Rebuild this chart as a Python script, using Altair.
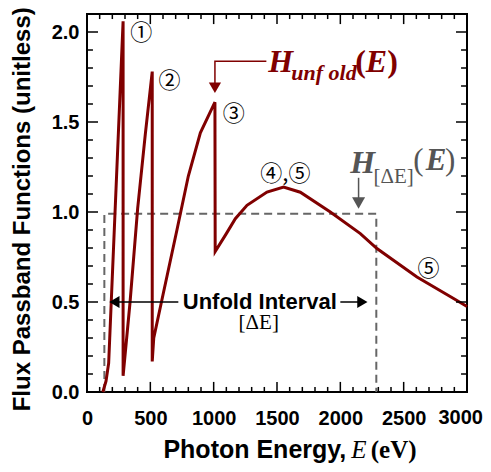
import altair as alt
import pandas as pd

# ---- data ----
energy = [125, 150, 171, 285, 285, 340, 400, 460, 515, 515, 527, 600, 710, 800,
          895, 1010, 1012, 1100, 1171, 1263, 1421, 1552, 1684, 1921, 2158, 2289,
          2605, 2894, 3000]
h_unfold = [0.0, 0.06, 0.16, 2.06, 0.09, 0.50, 1.02, 1.43, 1.78, 0.17, 0.30, 0.54,
            0.90, 1.20, 1.44, 1.61, 0.78, 0.88, 0.963, 1.037, 1.111, 1.139, 1.11,
            1.00, 0.88, 0.797, 0.639, 0.519, 0.475]

box_e = [137, 137, 2284, 2284]
box_h = [0.0, 0.99, 0.99, 0.0]

x_major = [0, 500, 1000, 1500, 2000, 2500, 3000]
x_minor = list(range(0, 3001, 100))
y_major = [0.0, 0.5, 1.0, 1.5, 2.0]
y_minor = [round(i * 0.1, 1) for i in range(0, 21)]

circle_labels = ["\u2460", "\u2461", "\u2462", "\u2463,\u2464", "\u2464"]
circle_e = [429, 652, 1158, 1566, 2697]
circle_v = [1.997, 1.728, 1.547, 1.213, 0.686]

RED = "#800000"
GRAY = "#555555"
DGRAY = "#666666"

XMAX, YMAX = 3000, 2.1

xs = alt.Scale(domain=[0, XMAX], nice=False, zero=False)
ys = alt.Scale(domain=[0, YMAX], nice=False, zero=False)

X_AXIS = alt.Axis(values=x_major, format="d", ticks=False, domain=False, grid=False,
                  labelFont="Liberation Sans", labelFontWeight="bold",
                  labelFontSize=20, labelColor="black", labelPadding=16,
                  labelOverlap=False, labelFlush=False, title=None,
                  labelExpr="datum.value == 3000 ? '' : datum.label")
Y_AXIS = alt.Axis(values=y_major, format=".1f", ticks=False, domain=False, grid=False,
                  labelFont="Liberation Sans", labelFontWeight="bold",
                  labelFontSize=20, labelColor="black", labelPadding=8,
                  labelOverlap=False, labelFlush=False, title=None)


def enc(ch):
    return ch.encode(x=alt.X("E:Q", scale=xs, axis=X_AXIS),
                     y=alt.Y("v:Q", scale=ys, axis=Y_AXIS))


curve_df = pd.DataFrame({"E": energy, "v": h_unfold, "i": range(len(energy))})
curve = enc(alt.Chart(curve_df).mark_line(color=RED, strokeWidth=3)).encode(order="i:Q")

box_df = pd.DataFrame({"E": box_e, "v": box_h, "i": range(4)})
box = enc(alt.Chart(box_df).mark_line(color=DGRAY, strokeWidth=2, strokeDash=[8, 5])).encode(order="i:Q")

# ---- inward ticks on all four sides ----
rows = []
for e in x_minor:
    ln = 0.056 if e in x_major else 0.028
    rows.append({"E": e, "v": 0.0, "E2": e, "v2": ln})
    rows.append({"E": e, "v": YMAX, "E2": e, "v2": YMAX - ln})
for v in y_minor:
    ln = 87 if v in y_major else 47
    rows.append({"E": 0, "v": v, "E2": ln, "v2": v})
    rows.append({"E": XMAX, "v": v, "E2": XMAX - ln, "v2": v})
ticks = enc(alt.Chart(pd.DataFrame(rows)).mark_rule(color="black", strokeWidth=1.5)).encode(
    x2="E2:Q", y2="v2:Q")

# ---- H_unfold arrow ----
hu_line = enc(alt.Chart(pd.DataFrame({"E": [1416, 1010, 1010], "v": [1.837, 1.837, 1.71], "i": [0, 1, 2]}))
              .mark_line(color=RED, strokeWidth=1.5)).encode(order="i:Q")
hu_head = enc(alt.Chart(pd.DataFrame({"E": [1010], "v": [1.69]}))
              .mark_point(shape="triangle-down", filled=True, size=150, color=RED, opacity=1))

# ---- H_[dE] arrow ----
hd_line = enc(alt.Chart(pd.DataFrame({"E": [2144, 2144], "v": [1.19, 1.07], "i": [0, 1]}))
              .mark_line(color=GRAY, strokeWidth=1.5)).encode(order="i:Q")
hd_head = enc(alt.Chart(pd.DataFrame({"E": [2144], "v": [1.05]}))
              .mark_point(shape="triangle-down", filled=True, size=170, color=GRAY, opacity=1))

# ---- Unfold interval double arrow ----
ui_l = enc(alt.Chart(pd.DataFrame({"E": [190, 721], "v": [0.5, 0.5], "i": [0, 1]}))
           .mark_line(color="black", strokeWidth=1.5)).encode(order="i:Q")
ui_r = enc(alt.Chart(pd.DataFrame({"E": [2000, 2200], "v": [0.5, 0.5], "i": [0, 1]}))
           .mark_line(color="black", strokeWidth=1.5)).encode(order="i:Q")
ui_hl = enc(alt.Chart(pd.DataFrame({"E": [216], "v": [0.5]}))
            .mark_point(shape="triangle-left", filled=True, size=140, color="black", opacity=1))
ui_hr = enc(alt.Chart(pd.DataFrame({"E": [2174], "v": [0.5]}))
            .mark_point(shape="triangle-right", filled=True, size=140, color="black", opacity=1))


def txt(E, v, t, **kw):
    df = pd.DataFrame({"E": E, "v": v, "t": t})
    return enc(alt.Chart(df).mark_text(**kw)).encode(text="t:N")


layers = [
    box, curve, ticks, hu_line, hu_head, hd_line, hd_head, ui_l, ui_r, ui_hl, ui_hr,
    # last x tick label, kept inside the page
    txt([x_major[-1]], [0.0], [str(x_major[-1])], font="Liberation Sans",
        fontWeight="bold", fontSize=20, color="black", align="right",
        baseline="top", dx=16, dy=16),
    # circled labels
    txt(circle_e, circle_v, circle_labels, font="Noto Sans CJK JP", fontSize=22,
        color="black", align="center", baseline="middle"),
    # Unfold Interval
    txt([1364], [0.5], ["Unfold Interval"], font="Liberation Sans", fontWeight="bold",
        fontSize=22, color="black", align="center", baseline="middle"),
    txt([1356], [0.35], ["[\u0394E]"], font="Liberation Serif", fontSize=21,
        color="black", align="center", baseline="alphabetic"),
    # H_unfold(E)
    txt([1431], [1.776], ["H"], font="Liberation Serif", fontStyle="italic",
        fontWeight="bold", fontSize=32, color=RED, align="left", baseline="alphabetic"),
    txt([1613], [1.732], ["unf old"], font="Liberation Serif", fontStyle="italic",
        fontWeight="bold", fontSize=22, color=RED, align="left", baseline="alphabetic"),
    txt([2117], [1.776], ["("], font="Liberation Serif", fontWeight="bold",
        fontSize=32, color=RED, align="left", baseline="alphabetic"),
    txt([2200], [1.776], ["E"], font="Liberation Serif", fontStyle="italic",
        fontWeight="bold", fontSize=32, color=RED, align="left", baseline="alphabetic"),
    txt([2370], [1.776], [")"], font="Liberation Serif", fontWeight="bold",
        fontSize=32, color=RED, align="left", baseline="alphabetic"),
    # H_[dE](E)
    txt([2079], [1.215], ["H"], font="Liberation Serif", fontStyle="italic",
        fontWeight="bold", fontSize=32, color=GRAY, align="left", baseline="alphabetic"),
    txt([2262], [1.159], ["[\u0394E]"], font="Liberation Serif", fontSize=21,
        color=GRAY, align="left", baseline="alphabetic"),
    txt([2576], [1.232], ["("], font="Liberation Serif", fontSize=31,
        color=GRAY, align="left", baseline="alphabetic"),
    txt([2674], [1.232], ["E"], font="Liberation Serif", fontStyle="italic",
        fontWeight="bold", fontSize=31, color=GRAY, align="left", baseline="alphabetic"),
    txt([2826], [1.232], [")"], font="Liberation Serif", fontSize=31,
        color=GRAY, align="left", baseline="alphabetic"),
    # axis titles
    txt([2047], [-0.365], ["Photon Energy,"], font="Liberation Sans", fontWeight="bold",
        fontSize=25, color="black", align="right", baseline="alphabetic"),
    txt([2087], [-0.365], ["E"], font="Liberation Serif", fontStyle="italic",
        fontSize=25, color="black", align="left", baseline="alphabetic"),
    txt([2240], [-0.365], ["(eV)"], font="Liberation Serif", fontWeight="bold",
        fontSize=25, color="black", align="left", baseline="alphabetic"),
    txt([-448], [1.015], ["Flux Passband Functions (unitless)"], font="Liberation Sans",
        fontWeight="bold", fontSize=24, color="black", align="center",
        baseline="alphabetic", angle=270),
]

chart = alt.layer(*layers).properties(
    width=380, height=378,
    autosize=alt.AutoSizeParams(type="none"),
    padding={"left": 79, "top": 6, "right": 16, "bottom": 72},
    background="white",
).configure_view(stroke="black", strokeWidth=2)

chart.save("out.html", embed_options={"renderer": "svg", "actions": False})
